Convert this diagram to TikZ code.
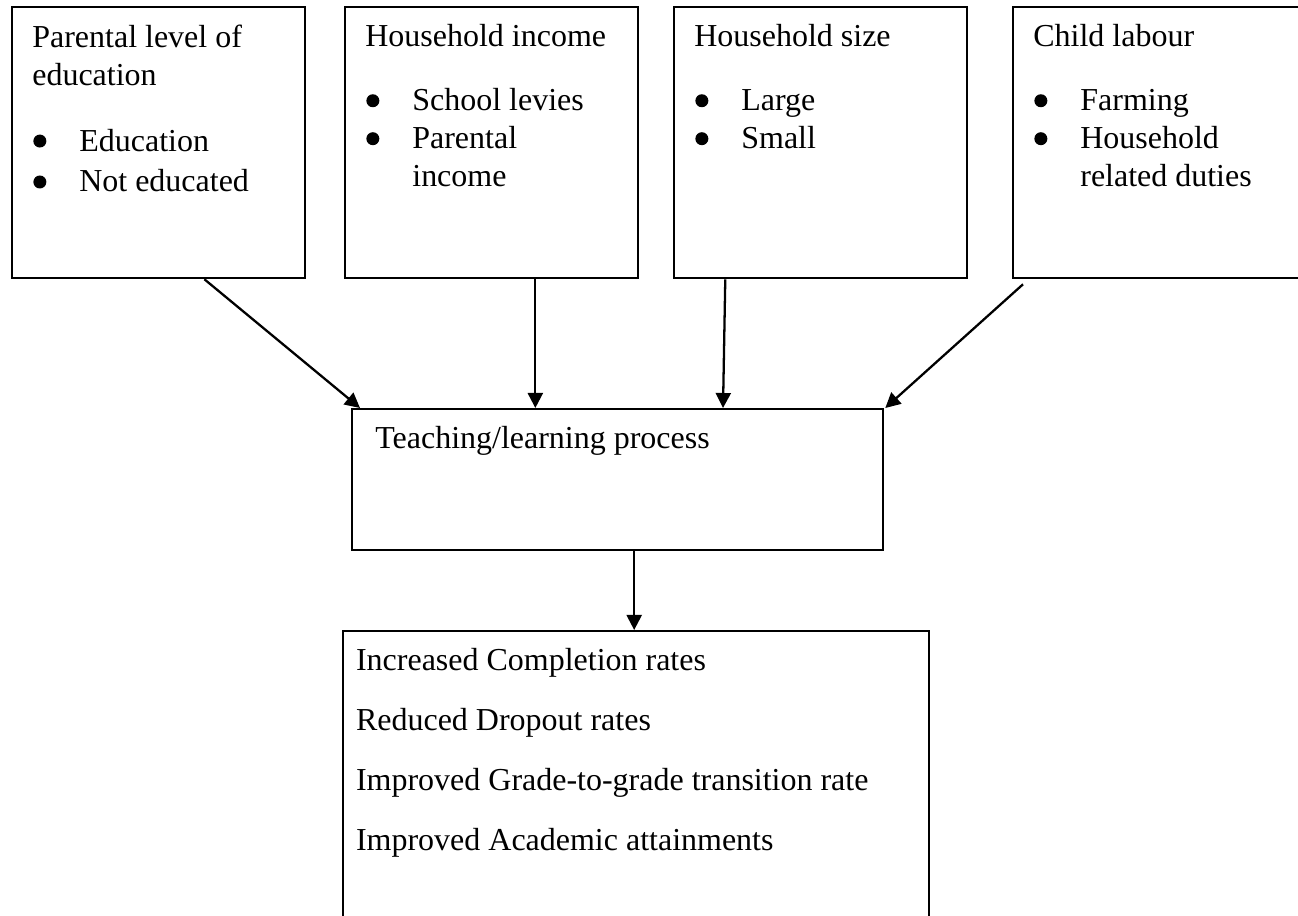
\documentclass[tikz,border=0pt]{standalone}
\usepackage{fontspec}
\setmainfont{Liberation Serif}
\usetikzlibrary{calc, positioning, arrows.meta}

\newcommand{\bul}[1]{\makebox[0.94cm][l]{\hspace{0.02cm}\tikz[baseline=-0.2cm]\fill (0.13,0) circle (0.13cm);}#1}
\newcommand{\cont}[1]{\hspace*{0.94cm}#1}

\begin{document}
\begin{tikzpicture}[
	box/.style={draw=black, line width=1.3pt, rectangle, inner sep=0pt},
	topbox/.style={box, minimum width=5.86cm, minimum height=5.42cm, anchor=north west},
	txt/.style={inner sep=0pt, align=left, anchor=north west, font=\fontsize{18.2}{21.6}\selectfont},
	arr/.style={line width=1.3pt, -{Triangle[length=0.3cm, width=0.3cm]}}
	]
	\useasboundingbox (0,0) rectangle (25.96,18.3);

	% the four factors
	\node [topbox] (edu) at (0.22,18.18) {};
	\node [topbox] (inc) at (6.88,18.18) {};
	\node [topbox] (size) at (13.46,18.18) {};
	\node [topbox] (lab) at (20.24,18.18) {};

	\node [txt] (edut) at ($(edu.north west)+(0.42,-0.365)$) {Parental level of\\education\\[0.56cm]%
		\bul{Education}\\[0.06cm]\bul{Not educated}};
	\node [txt] (inct) at ($(inc.north west)+(0.42,-0.365)$) {Household income\\[0.52cm]%
		\bul{School levies}\\\bul{Parental}\\\cont{income}};
	\node [txt] (sizet) at ($(size.north west)+(0.42,-0.365)$) {Household size\\[0.52cm]%
		\bul{Large}\\\bul{Small}};
	\node [txt] (labt) at ($(lab.north west)+(0.42,-0.365)$) {Child labour\\[0.52cm]%
		\bul{Farming}\\\bul{Household}\\\cont{related duties}};

	% process and outcomes
	\node [box, minimum width=10.62cm, minimum height=2.82cm, anchor=north west] (proc) at (7.02,10.14) {};
	\node [txt] (proct) at ($(proc.north west)+(0.48,-0.365)$) {Teaching/learning process};

	\node [box, minimum width=11.72cm, minimum height=6.5cm, anchor=north east] (out) at (18.6,5.7) {};
	\node [txt, font=\fontsize{18.2}{34.1}\selectfont] (outt) at ($(out.north west)+(0.28,-0.365)$) {%
		Increased Completion rates\\Reduced Dropout rates\\%
		Improved Grade-to-grade transition rate\\Improved Academic attainments};

	% arrows
	\draw [arr] ($(edu.south west)!0.655!(edu.south east)$) -- ($(proc.north west)+(0.18,0)$);
	\draw [arr] ($(inc.south west)!0.648!(inc.south east)$) coordinate (a2) -- (a2 |- proc.north);
	\draw [arr] ($(size.south west)!0.177!(size.south east)$) -- ($(proc.north west)+(7.44,0)$);
	\draw [arr] ($(lab.south west)+(0.22,-0.1)$) -- ($(proc.north east)+(0.02,0)$);
	\draw [arr] ($(proc.south west)!0.531!(proc.south east)$) coordinate (a5) -- (a5 |- out.north);
\end{tikzpicture}
\end{document}
